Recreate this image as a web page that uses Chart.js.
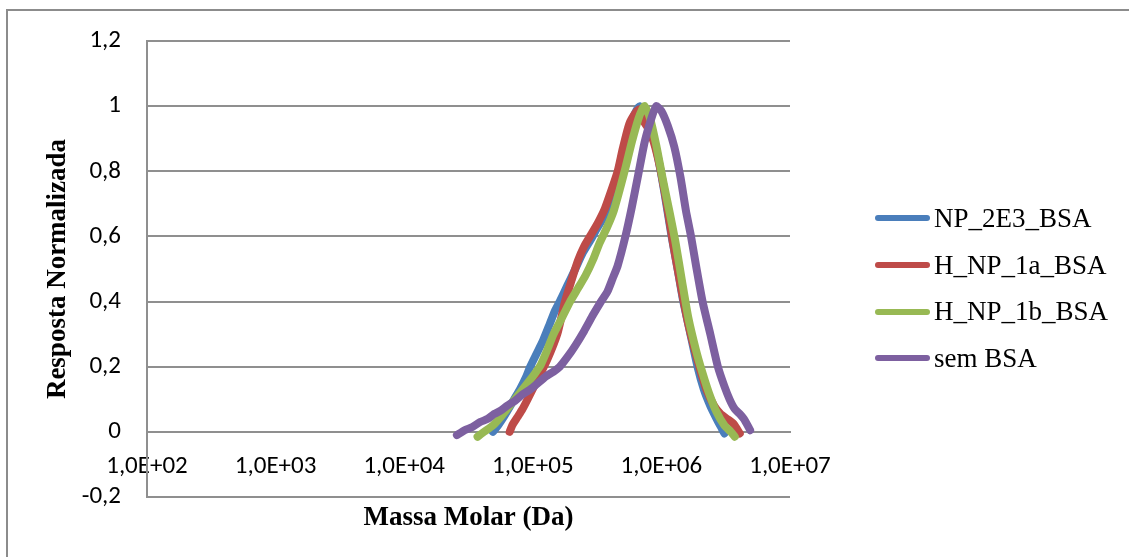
<!DOCTYPE html>
<html lang="pt">
<head>
<meta charset="utf-8">
<title>Resposta Normalizada x Massa Molar</title>
<script src="https://cdn.jsdelivr.net/npm/chart.js@4.4.1/dist/chart.umd.min.js"></script>
<style>
    html, body { margin: 0; padding: 0; background: #fff; overflow: hidden; }
    #wrap { position: relative; width: 1129px; height: 557px; }
    #frame {
        position: absolute; left: 6px; top: 9px; width: 1200px; height: 700px;
        border: 2px solid #8c8c8c; box-sizing: border-box; pointer-events: none;
    }
    #legend {
        position: absolute; left: 875px; top: 195px;
        font-family: 'Liberation Serif', 'Times New Roman', serif; font-size: 27px; color: #000;
    }
    #legend .row { display: flex; align-items: center; height: 46.7px; white-space: nowrap; }
    #legend .swatch { width: 55px; height: 6px; border-radius: 3px; margin-right: 4px; }
</style>
</head>
<body>
<div id="wrap">
    <canvas id="chart" width="1129" height="557"></canvas>
    <div id="frame"></div>
    <div id="legend"></div>
</div>
<script>
// Massa molar (Da) e resposta normalizada de cada amostra
const npMass = [4.90e4, 5.37e4, 6.03e4, 6.92e4, 7.94e4, 8.91e4, 9.55e4, 1.07e5, 1.20e5, 1.35e5,
    1.48e5, 1.62e5, 1.86e5, 2.14e5, 2.45e5, 2.82e5, 3.16e5, 3.63e5, 4.07e5, 4.57e5,
    5.01e5, 5.62e5, 6.17e5, 6.76e5, 7.08e5, 7.59e5, 8.32e5, 9.33e5, 1.05e6, 1.20e6,
    1.35e6, 1.48e6, 1.66e6, 1.91e6, 2.14e6, 2.40e6, 2.69e6, 2.95e6, 3.09e6];
const npResp = [0.0, 0.02, 0.05, 0.09, 0.13, 0.17, 0.20, 0.24, 0.28, 0.33,
    0.37, 0.40, 0.45, 0.50, 0.55, 0.59, 0.625, 0.665, 0.72, 0.79,
    0.86, 0.93, 0.975, 1.0, 0.97, 0.97, 0.93, 0.85, 0.74, 0.60,
    0.49, 0.40, 0.31, 0.20, 0.13, 0.08, 0.04, 0.01, -0.005];

const h1aMass = [6.61e4, 6.92e4, 7.59e4, 8.32e4, 9.12e4, 1.07e5, 1.29e5, 1.55e5, 1.78e5, 2.00e5,
    2.24e5, 2.51e5, 2.88e5, 3.24e5, 3.63e5, 4.07e5, 4.57e5, 5.01e5, 5.62e5, 6.31e5,
    6.76e5, 7.24e5, 7.94e5, 8.71e5, 9.77e5, 1.10e6, 1.23e6, 1.41e6, 1.62e6, 1.91e6,
    2.24e6, 2.57e6, 2.88e6, 3.24e6, 3.63e6, 4.07e6];
const h1aResp = [0.0, 0.02, 0.045, 0.07, 0.10, 0.155, 0.22, 0.30, 0.40, 0.465,
    0.525, 0.57, 0.61, 0.645, 0.685, 0.74, 0.80, 0.87, 0.945, 0.98,
    0.99, 0.955, 0.93, 0.89, 0.81, 0.70, 0.58, 0.45, 0.33, 0.22,
    0.13, 0.08, 0.055, 0.04, 0.025, -0.005];

const h1bMass = [3.72e4, 4.17e4, 4.90e4, 5.75e4, 6.61e4, 7.76e4, 9.12e4, 1.02e5, 1.15e5, 1.29e5,
    1.45e5, 1.66e5, 1.95e5, 2.24e5, 2.57e5, 2.95e5, 3.31e5, 3.80e5, 4.27e5, 4.79e5,
    5.25e5, 5.89e5, 6.61e5, 7.08e5, 7.41e5, 8.13e5, 9.12e5, 1.02e6, 1.15e6, 1.29e6,
    1.45e6, 1.62e6, 1.86e6, 2.09e6, 2.34e6, 2.69e6, 3.09e6, 3.47e6, 3.72e6];
const h1bResp = [-0.015, 0.0, 0.02, 0.05, 0.08, 0.115, 0.15, 0.175, 0.205, 0.25,
    0.30, 0.345, 0.40, 0.44, 0.48, 0.53, 0.58, 0.63, 0.68, 0.75,
    0.81, 0.89, 0.96, 0.99, 1.0, 0.965, 0.88, 0.78, 0.68, 0.58,
    0.46, 0.35, 0.25, 0.18, 0.12, 0.06, 0.02, 0.0, -0.015];

const semMass = [2.57e4, 2.95e4, 3.39e4, 3.89e4, 4.47e4, 5.01e4, 5.62e4, 6.31e4, 7.24e4, 8.32e4,
    9.55e4, 1.10e5, 1.26e5, 1.45e5, 1.62e5, 1.86e5, 2.14e5, 2.51e5, 2.95e5, 3.39e5,
    3.80e5, 4.17e5, 4.57e5, 5.25e5, 5.89e5, 6.61e5, 7.41e5, 8.32e5, 9.12e5, 1.00e6,
    1.12e6, 1.26e6, 1.41e6, 1.55e6, 1.70e6, 1.86e6, 2.09e6, 2.40e6, 2.75e6, 3.09e6,
    3.39e6, 3.72e6, 4.07e6, 4.37e6, 4.68e6, 4.90e6];
const semResp = [-0.01, 0.005, 0.015, 0.03, 0.04, 0.055, 0.065, 0.08, 0.095, 0.115,
    0.13, 0.15, 0.17, 0.185, 0.20, 0.23, 0.265, 0.31, 0.36, 0.40,
    0.43, 0.47, 0.51, 0.60, 0.69, 0.79, 0.89, 0.96, 1.0, 0.985,
    0.94, 0.875, 0.78, 0.68, 0.60, 0.51, 0.40, 0.30, 0.20, 0.14,
    0.10, 0.07, 0.055, 0.04, 0.02, 0.005];

const seriesNames = ['NP_2E3_BSA', 'H_NP_1a_BSA', 'H_NP_1b_BSA', 'sem BSA'];
const seriesColors = ['#4a7ebb', '#be4b48', '#98b954', '#7d60a0'];

const xTickValues = [1e2, 1e3, 1e4, 1e5, 1e6, 1e7];
const xTickLabels = ['1,0E+02', '1,0E+03', '1,0E+04', '1,0E+05', '1,0E+06', '1,0E+07'];

const gridColor = '#8f8f8f';
const tickFont = { family: 'Carlito, Lato, sans-serif', size: 25 };
const titleFont = { family: "'Liberation Serif', 'Times New Roman', serif", size: 27, weight: 'bold' };

function toPoints(xs, ys) {
    return xs.map((x, i) => ({ x, y: ys[i] }));
}

const seriesData = [
    toPoints(npMass, npResp),
    toPoints(h1aMass, h1aResp),
    toPoints(h1bMass, h1bResp),
    toPoints(semMass, semResp)
];

// later series sit on top, as in the original plot
const datasets = seriesNames.map((name, i) => ({
    label: name,
    data: seriesData[i],
    borderColor: seriesColors[i],
    backgroundColor: seriesColors[i],
    borderWidth: 8,
    borderCapStyle: 'round',
    borderJoinStyle: 'round',
    pointRadius: 0,
    tension: 0.2,
    order: seriesNames.length - i
}));

new Chart(document.getElementById('chart').getContext('2d'), {
    type: 'line',
    data: { datasets },
    options: {
        responsive: false,
        animation: false,
        layout: { padding: { top: 40, right: 339, bottom: 60, left: 0 } },
        plugins: {
            legend: { display: false },
            tooltip: { enabled: false }
        },
        scales: {
            x: {
                type: 'logarithmic',
                position: { y: 0 },
                min: 1e2,
                max: 1e7,
                afterBuildTicks: (axis) => { axis.ticks = xTickValues.map(value => ({ value })); },
                grid: { display: false, drawTicks: false },
                border: { display: true, color: gridColor, width: 2 },
                ticks: {
                    autoSkip: false,
                    maxRotation: 0,
                    minRotation: 0,
                    padding: 20,
                    color: '#000',
                    font: tickFont,
                    callback: (value, index) => xTickLabels[index]
                },
                title: {
                    display: true,
                    text: 'Massa Molar (Da)',
                    color: '#000',
                    font: titleFont,
                    padding: { top: 0, bottom: 0 }
                }
            },
            y: {
                type: 'linear',
                min: -0.2,
                max: 1.2,
                afterFit: (axis) => { axis.width = 147; },
                grid: { color: gridColor, lineWidth: 2, drawTicks: false },
                border: { display: true, color: gridColor, width: 2 },
                ticks: {
                    stepSize: 0.2,
                    padding: 26,
                    color: '#000',
                    font: tickFont,
                    callback: (value) => String(Math.round(value * 10) / 10).replace('.', ',')
                },
                title: {
                    display: true,
                    text: 'Resposta Normalizada',
                    color: '#000',
                    font: titleFont,
                    padding: { top: 42, bottom: 0 }
                }
            }
        }
    }
});

// legend built from the same names and colours
const legendEl = document.getElementById('legend');
seriesNames.forEach((name, i) => {
    const row = document.createElement('div');
    row.className = 'row';
    row.innerHTML = `<span class="swatch" style="background:${seriesColors[i]}"></span><span>${name}</span>`;
    legendEl.appendChild(row);
});
</script>
</body>
</html>
